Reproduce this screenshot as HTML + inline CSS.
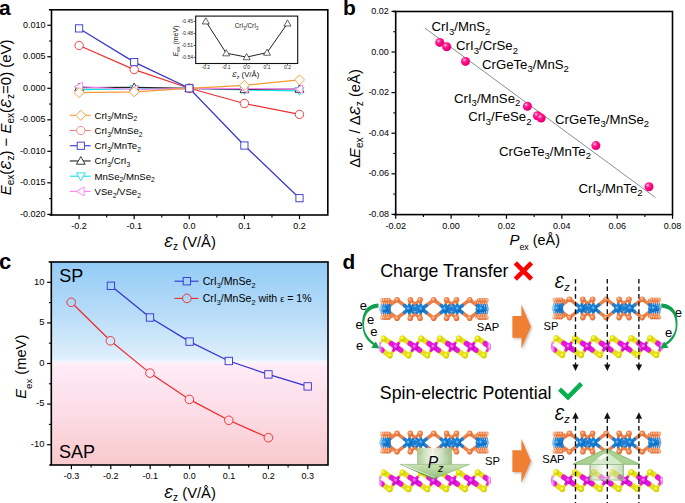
<!DOCTYPE html><html><head><meta charset="utf-8"><title>Figure</title><style>html,body{margin:0;padding:0;background:#fff;width:685px;height:503px;overflow:hidden}svg{display:block;font-family:"Liberation Sans",sans-serif}</style></head><body>
<svg width="685" height="503" viewBox="0 0 685 503">
<defs><radialGradient id="ball" cx="0.36" cy="0.33" r="0.72"><stop offset="0" stop-color="#ffd8ee"/><stop offset="0.28" stop-color="#ff2c98"/><stop offset="0.6" stop-color="#fb007f"/><stop offset="1" stop-color="#e20074"/></radialGradient><linearGradient id="bgall" gradientUnits="userSpaceOnUse" x1="0" y1="262" x2="0" y2="465"><stop offset="0" stop-color="#93cbf6"/><stop offset="0.25" stop-color="#b7dcf8"/><stop offset="0.475" stop-color="#deeffc"/><stop offset="0.4916" stop-color="#f2f8fe"/><stop offset="0.4916" stop-color="#fff4fb"/><stop offset="0.52" stop-color="#feeaf6"/><stop offset="0.75" stop-color="#fcdce6"/><stop offset="1" stop-color="#f9c9cb"/></linearGradient><radialGradient id="gcr" cx="0.4" cy="0.38" r="0.65"><stop offset="0" stop-color="#8fd2ff"/><stop offset="0.35" stop-color="#1e88dc"/><stop offset="1" stop-color="#0a60b0"/></radialGradient><radialGradient id="gi" cx="0.4" cy="0.38" r="0.65"><stop offset="0" stop-color="#ffd8c0"/><stop offset="0.4" stop-color="#f28a52"/><stop offset="1" stop-color="#d86a30"/></radialGradient><radialGradient id="gmn" cx="0.4" cy="0.38" r="0.65"><stop offset="0" stop-color="#ffb0ff"/><stop offset="0.4" stop-color="#e81ee0"/><stop offset="1" stop-color="#c000b8"/></radialGradient><radialGradient id="gse" cx="0.4" cy="0.38" r="0.65"><stop offset="0" stop-color="#ffff90"/><stop offset="0.4" stop-color="#eeea10"/><stop offset="1" stop-color="#c8c000"/></radialGradient><linearGradient id="shaft" x1="0" y1="0" x2="1" y2="0"><stop offset="0" stop-color="#a8c890"/><stop offset="0.45" stop-color="#f4faf0"/><stop offset="1" stop-color="#98bc80"/></linearGradient><linearGradient id="head" x1="0" y1="0" x2="0" y2="1"><stop offset="0" stop-color="#c4e0ae"/><stop offset="1" stop-color="#8cbc74"/></linearGradient><linearGradient id="headu" x1="0" y1="0" x2="0" y2="1"><stop offset="0" stop-color="#bcdcaa"/><stop offset="1" stop-color="#a8d094"/></linearGradient><linearGradient id="fadeL" x1="0" y1="0" x2="1" y2="0"><stop offset="0" stop-color="#fff" stop-opacity="0.85"/><stop offset="1" stop-color="#fff" stop-opacity="0"/></linearGradient><linearGradient id="fadeR" x1="1" y1="0" x2="0" y2="0"><stop offset="0" stop-color="#fff" stop-opacity="0.85"/><stop offset="1" stop-color="#fff" stop-opacity="0"/></linearGradient></defs>
<line x1="47.3" y1="25.27" x2="51.5" y2="25.27" stroke="#000" stroke-width="1.2"/>
<text x="45.5" y="27.87" font-size="9" text-anchor="end">0.010</text>
<line x1="47.3" y1="56.78" x2="51.5" y2="56.78" stroke="#000" stroke-width="1.2"/>
<text x="45.5" y="59.38" font-size="9" text-anchor="end">0.005</text>
<line x1="47.3" y1="88.3" x2="51.5" y2="88.3" stroke="#000" stroke-width="1.2"/>
<text x="45.5" y="90.9" font-size="9" text-anchor="end">0.000</text>
<line x1="47.3" y1="119.81" x2="51.5" y2="119.81" stroke="#000" stroke-width="1.2"/>
<text x="45.5" y="122.41" font-size="9" text-anchor="end">-0.005</text>
<line x1="47.3" y1="151.33" x2="51.5" y2="151.33" stroke="#000" stroke-width="1.2"/>
<text x="45.5" y="153.93" font-size="9" text-anchor="end">-0.010</text>
<line x1="47.3" y1="182.84" x2="51.5" y2="182.84" stroke="#000" stroke-width="1.2"/>
<text x="45.5" y="185.44" font-size="9" text-anchor="end">-0.015</text>
<line x1="47.3" y1="214.36" x2="51.5" y2="214.36" stroke="#000" stroke-width="1.2"/>
<text x="45.5" y="216.96" font-size="9" text-anchor="end">-0.020</text>
<line x1="49.1" y1="41.03" x2="51.5" y2="41.03" stroke="#000" stroke-width="1.1"/>
<line x1="49.1" y1="72.54" x2="51.5" y2="72.54" stroke="#000" stroke-width="1.1"/>
<line x1="49.1" y1="104.06" x2="51.5" y2="104.06" stroke="#000" stroke-width="1.1"/>
<line x1="49.1" y1="135.57" x2="51.5" y2="135.57" stroke="#000" stroke-width="1.1"/>
<line x1="49.1" y1="167.09" x2="51.5" y2="167.09" stroke="#000" stroke-width="1.1"/>
<line x1="49.1" y1="198.6" x2="51.5" y2="198.6" stroke="#000" stroke-width="1.1"/>
<line x1="79.1" y1="215" x2="79.1" y2="219.2" stroke="#000" stroke-width="1.2"/>
<text x="79.1" y="229.2" font-size="9" text-anchor="middle">-0.2</text>
<line x1="134.2" y1="215" x2="134.2" y2="219.2" stroke="#000" stroke-width="1.2"/>
<text x="134.2" y="229.2" font-size="9" text-anchor="middle">-0.1</text>
<line x1="189.3" y1="215" x2="189.3" y2="219.2" stroke="#000" stroke-width="1.2"/>
<text x="189.3" y="229.2" font-size="9" text-anchor="middle">0.0</text>
<line x1="244.4" y1="215" x2="244.4" y2="219.2" stroke="#000" stroke-width="1.2"/>
<text x="244.4" y="229.2" font-size="9" text-anchor="middle">0.1</text>
<line x1="299.5" y1="215" x2="299.5" y2="219.2" stroke="#000" stroke-width="1.2"/>
<text x="299.5" y="229.2" font-size="9" text-anchor="middle">0.2</text>
<line x1="106.65" y1="215" x2="106.65" y2="217.4" stroke="#000" stroke-width="1.1"/>
<line x1="161.75" y1="215" x2="161.75" y2="217.4" stroke="#000" stroke-width="1.1"/>
<line x1="216.85" y1="215" x2="216.85" y2="217.4" stroke="#000" stroke-width="1.1"/>
<line x1="271.95" y1="215" x2="271.95" y2="217.4" stroke="#000" stroke-width="1.1"/>
<text x="164" y="247.4" font-size="14.8"><tspan font-style="italic">&#400;</tspan><tspan dy="3" font-size="10">z</tspan><tspan dy="-3"> (V/&#197;)</tspan></text>
<text transform="translate(10.8,117.4) rotate(-90)" text-anchor="middle" font-size="14.95"><tspan font-style="italic">E</tspan><tspan dy="3.6" font-size="10">ex</tspan><tspan dy="-3.6">(</tspan><tspan font-style="italic">&#400;</tspan><tspan dy="3.3" font-size="10">z</tspan><tspan dy="-3.3">) &#8722; </tspan><tspan font-style="italic">E</tspan><tspan dy="3.6" font-size="10">ex</tspan><tspan dy="-3.6">(</tspan><tspan font-style="italic">&#400;</tspan><tspan dy="3.3" font-size="10">z</tspan><tspan dy="-3.3">=0) (eV)</tspan></text>
<polyline points="79.1,89.6 134.2,89 189.3,88.3 244.4,90 299.5,90.8" fill="none" stroke="#10e0e8" stroke-width="1.2"/>
<polyline points="79.1,87.6 134.2,87.4 189.3,88.3 244.4,89.4 299.5,89" fill="none" stroke="#222222" stroke-width="1.2"/>
<polyline points="79.1,86.6 134.2,89.5 189.3,88.3 244.4,88.6 299.5,89.2" fill="none" stroke="#ff80f0" stroke-width="1.2"/>
<polyline points="79.1,92.6 134.2,91.8 189.3,88.3 244.4,85.3 299.5,79.9" fill="none" stroke="#f39a32" stroke-width="1.2"/>
<polyline points="79.1,45.5 134.2,69.6 189.3,88.3 244.4,103.5 299.5,114.4" fill="none" stroke="#ee3030" stroke-width="1.2"/>
<polyline points="79.1,28.4 134.2,62.1 189.3,88.3 244.4,145.5 299.5,198.2" fill="none" stroke="#3535cc" stroke-width="1.2"/>
<polygon points="79.1,94 83.5,86.3 74.7,86.3" fill="#fff" stroke="#10e0e8" stroke-width="0.9"/>
<polygon points="134.2,93.4 138.6,85.7 129.8,85.7" fill="#fff" stroke="#10e0e8" stroke-width="0.9"/>
<polygon points="189.3,92.7 193.7,85 184.9,85" fill="#fff" stroke="#10e0e8" stroke-width="0.9"/>
<polygon points="244.4,94.4 248.8,86.7 240,86.7" fill="#fff" stroke="#10e0e8" stroke-width="0.9"/>
<polygon points="299.5,95.2 303.9,87.5 295.1,87.5" fill="#fff" stroke="#10e0e8" stroke-width="0.9"/>
<polygon points="79.1,83.2 83.5,90.9 74.7,90.9" fill="#fff" stroke="#222222" stroke-width="0.9"/>
<polygon points="134.2,83 138.6,90.7 129.8,90.7" fill="#fff" stroke="#222222" stroke-width="0.9"/>
<polygon points="189.3,83.9 193.7,91.6 184.9,91.6" fill="#fff" stroke="#222222" stroke-width="0.9"/>
<polygon points="244.4,85 248.8,92.7 240,92.7" fill="#fff" stroke="#222222" stroke-width="0.9"/>
<polygon points="299.5,84.6 303.9,92.3 295.1,92.3" fill="#fff" stroke="#222222" stroke-width="0.9"/>
<polygon points="74.7,86.6 82.4,82.2 82.4,91" fill="#fff" stroke="#ff80f0" stroke-width="0.9"/>
<polygon points="129.8,89.5 137.5,85.1 137.5,93.9" fill="#fff" stroke="#ff80f0" stroke-width="0.9"/>
<polygon points="184.9,88.3 192.6,83.9 192.6,92.7" fill="#fff" stroke="#ff80f0" stroke-width="0.9"/>
<polygon points="240,88.6 247.7,84.2 247.7,93" fill="#fff" stroke="#ff80f0" stroke-width="0.9"/>
<polygon points="295.1,89.2 302.8,84.8 302.8,93.6" fill="#fff" stroke="#ff80f0" stroke-width="0.9"/>
<polygon points="79.1,87.6 84.1,92.6 79.1,97.6 74.1,92.6" fill="#fff" stroke="#f39a32" stroke-width="0.9"/>
<polygon points="134.2,86.8 139.2,91.8 134.2,96.8 129.2,91.8" fill="#fff" stroke="#f39a32" stroke-width="0.9"/>
<polygon points="189.3,83.3 194.3,88.3 189.3,93.3 184.3,88.3" fill="#fff" stroke="#f39a32" stroke-width="0.9"/>
<polygon points="244.4,80.3 249.4,85.3 244.4,90.3 239.4,85.3" fill="#fff" stroke="#f39a32" stroke-width="0.9"/>
<polygon points="299.5,74.9 304.5,79.9 299.5,84.9 294.5,79.9" fill="#fff" stroke="#f39a32" stroke-width="0.9"/>
<circle cx="79.1" cy="45.5" r="4.2" fill="#fff" stroke="#ee3030" stroke-width="0.9"/>
<circle cx="134.2" cy="69.6" r="4.2" fill="#fff" stroke="#ee3030" stroke-width="0.9"/>
<circle cx="189.3" cy="88.3" r="4.2" fill="#fff" stroke="#ee3030" stroke-width="0.9"/>
<circle cx="244.4" cy="103.5" r="4.2" fill="#fff" stroke="#ee3030" stroke-width="0.9"/>
<circle cx="299.5" cy="114.4" r="4.2" fill="#fff" stroke="#ee3030" stroke-width="0.9"/>
<rect x="75.5" y="24.8" width="7.2" height="7.2" fill="#fff" stroke="#3535cc" stroke-width="0.9"/>
<rect x="130.6" y="58.5" width="7.2" height="7.2" fill="#fff" stroke="#3535cc" stroke-width="0.9"/>
<rect x="185.7" y="84.7" width="7.2" height="7.2" fill="#fff" stroke="#3535cc" stroke-width="0.9"/>
<rect x="240.8" y="141.9" width="7.2" height="7.2" fill="#fff" stroke="#3535cc" stroke-width="0.9"/>
<rect x="295.9" y="194.6" width="7.2" height="7.2" fill="#fff" stroke="#3535cc" stroke-width="0.9"/>
<line x1="49.5" y1="215" x2="51.5" y2="215" stroke="#000" stroke-width="1.6"/>
<line x1="48.9" y1="9.8" x2="51.5" y2="9.8" stroke="#000" stroke-width="1.6"/>
<rect x="51.5" y="9.8" width="276.3" height="205.2" fill="none" stroke="#000" stroke-width="1.6"/>
<line x1="69.8" y1="115.3" x2="90.6" y2="115.3" stroke="#f39a32" stroke-width="1.1"/>
<polygon points="80.8,110.3 85.8,115.3 80.8,120.3 75.8,115.3" fill="#fff" stroke="#f39a32" stroke-width="0.9"/>
<text x="94.5" y="118.8" font-size="9.6"><tspan>CrI</tspan><tspan dy="2.6" font-size="6.72">3</tspan><tspan dy="-2.6">/MnS</tspan><tspan dy="2.6" font-size="6.72">2</tspan></text>
<line x1="69.8" y1="130.52" x2="90.6" y2="130.52" stroke="#f08080" stroke-width="1.1"/>
<circle cx="80.8" cy="130.52" r="4.2" fill="#fff" stroke="#f08080" stroke-width="0.9"/>
<text x="94.5" y="134.02" font-size="9.6"><tspan>CrI</tspan><tspan dy="2.6" font-size="6.72">3</tspan><tspan dy="-2.6">/MnSe</tspan><tspan dy="2.6" font-size="6.72">2</tspan></text>
<line x1="69.8" y1="145.74" x2="90.6" y2="145.74" stroke="#3535cc" stroke-width="1.1"/>
<rect x="77.2" y="142.14" width="7.2" height="7.2" fill="#fff" stroke="#3535cc" stroke-width="0.9"/>
<text x="94.5" y="149.24" font-size="9.6"><tspan>CrI</tspan><tspan dy="2.6" font-size="6.72">3</tspan><tspan dy="-2.6">/MnTe</tspan><tspan dy="2.6" font-size="6.72">2</tspan></text>
<line x1="69.8" y1="160.96" x2="90.6" y2="160.96" stroke="#222222" stroke-width="1.1"/>
<polygon points="80.8,156.56 85.2,164.26 76.4,164.26" fill="#fff" stroke="#222222" stroke-width="0.9"/>
<text x="94.5" y="164.46" font-size="9.6"><tspan>CrI</tspan><tspan dy="2.6" font-size="6.72">3</tspan><tspan dy="-2.6">/CrI</tspan><tspan dy="2.6" font-size="6.72">3</tspan></text>
<line x1="69.8" y1="176.18" x2="90.6" y2="176.18" stroke="#10e0e8" stroke-width="1.1"/>
<polygon points="80.8,180.58 85.2,172.88 76.4,172.88" fill="#fff" stroke="#10e0e8" stroke-width="0.9"/>
<text x="94.5" y="179.68" font-size="9.6"><tspan>MnSe</tspan><tspan dy="2.6" font-size="6.72">2</tspan><tspan dy="-2.6">/MnSe</tspan><tspan dy="2.6" font-size="6.72">2</tspan></text>
<line x1="69.8" y1="191.4" x2="90.6" y2="191.4" stroke="#ff80f0" stroke-width="1.1"/>
<polygon points="76.4,191.4 84.1,187 84.1,195.8" fill="#fff" stroke="#ff80f0" stroke-width="0.9"/>
<text x="94.5" y="194.9" font-size="9.6"><tspan>VSe</tspan><tspan dy="2.6" font-size="6.72">2</tspan><tspan dy="-2.6">/VSe</tspan><tspan dy="2.6" font-size="6.72">2</tspan></text>
<polyline points="205.8,21.3 226.22,53.2 246.65,57.1 267.07,52.6 287.5,23.4" fill="none" stroke="#222" stroke-width="1"/>
<polygon points="205.8,17.78 209.32,23.94 202.28,23.94" fill="#fff" stroke="#222" stroke-width="0.7"/>
<polygon points="226.22,49.68 229.75,55.84 222.7,55.84" fill="#fff" stroke="#222" stroke-width="0.7"/>
<polygon points="246.65,53.58 250.17,59.74 243.13,59.74" fill="#fff" stroke="#222" stroke-width="0.7"/>
<polygon points="267.07,49.08 270.59,55.24 263.56,55.24" fill="#fff" stroke="#222" stroke-width="0.7"/>
<polygon points="287.5,19.88 291.02,26.04 283.98,26.04" fill="#fff" stroke="#222" stroke-width="0.7"/>
<rect x="195.7" y="16.1" width="102" height="47.4" fill="none" stroke="#111" stroke-width="1.1"/>
<line x1="193.7" y1="21.5" x2="195.7" y2="21.5" stroke="#111" stroke-width="0.7"/>
<text x="193.1" y="23.3" font-size="5" text-anchor="end" fill="#222">-0.45</text>
<line x1="193.7" y1="33.5" x2="195.7" y2="33.5" stroke="#111" stroke-width="0.7"/>
<text x="193.1" y="35.3" font-size="5" text-anchor="end" fill="#222">-0.48</text>
<line x1="193.7" y1="45.5" x2="195.7" y2="45.5" stroke="#111" stroke-width="0.7"/>
<text x="193.1" y="47.3" font-size="5" text-anchor="end" fill="#222">-0.51</text>
<line x1="193.7" y1="57.3" x2="195.7" y2="57.3" stroke="#111" stroke-width="0.7"/>
<text x="193.1" y="59.1" font-size="5" text-anchor="end" fill="#222">-0.54</text>
<line x1="205.8" y1="63.5" x2="205.8" y2="65.5" stroke="#111" stroke-width="0.7"/>
<text x="205.8" y="69.2" font-size="5" text-anchor="middle" fill="#222">-0.2</text>
<line x1="226.22" y1="63.5" x2="226.22" y2="65.5" stroke="#111" stroke-width="0.7"/>
<text x="226.22" y="69.2" font-size="5" text-anchor="middle" fill="#222">-0.1</text>
<line x1="246.65" y1="63.5" x2="246.65" y2="65.5" stroke="#111" stroke-width="0.7"/>
<text x="246.65" y="69.2" font-size="5" text-anchor="middle" fill="#222">0.0</text>
<line x1="267.07" y1="63.5" x2="267.07" y2="65.5" stroke="#111" stroke-width="0.7"/>
<text x="267.07" y="69.2" font-size="5" text-anchor="middle" fill="#222">0.1</text>
<line x1="287.5" y1="63.5" x2="287.5" y2="65.5" stroke="#111" stroke-width="0.7"/>
<text x="287.5" y="69.2" font-size="5" text-anchor="middle" fill="#222">0.2</text>
<text x="245.6" y="77" font-size="7.8" text-anchor="middle" fill="#111"><tspan font-style="italic">&#400;</tspan><tspan dy="1.8" font-size="5.4">z</tspan><tspan dy="-1.8"> (V/&#197;)</tspan></text>
<text transform="translate(178.4,41) rotate(-90)" text-anchor="middle" font-size="7" fill="#111"><tspan font-style="italic">E</tspan><tspan dy="1.6" font-size="5">ex</tspan><tspan dy="-1.6"> (meV)</tspan></text>
<text x="246.6" y="28.2" font-size="6.4" text-anchor="middle" fill="#222"><tspan>CrI</tspan><tspan dy="1.8" font-size="4.48">3</tspan><tspan dy="-1.8">/CrI</tspan><tspan dy="1.8" font-size="4.48">3</tspan></text>
<text x="-1" y="14.5" font-size="21" font-weight="bold">a</text>
<line x1="391.5" y1="11.4" x2="395.7" y2="11.4" stroke="#000" stroke-width="1.2"/>
<text x="388.9" y="14" font-size="9" text-anchor="end">0.02</text>
<line x1="391.5" y1="52" x2="395.7" y2="52" stroke="#000" stroke-width="1.2"/>
<text x="388.9" y="54.6" font-size="9" text-anchor="end">0.00</text>
<line x1="391.5" y1="92.6" x2="395.7" y2="92.6" stroke="#000" stroke-width="1.2"/>
<text x="388.9" y="95.2" font-size="9" text-anchor="end">-0.02</text>
<line x1="391.5" y1="133.2" x2="395.7" y2="133.2" stroke="#000" stroke-width="1.2"/>
<text x="388.9" y="135.8" font-size="9" text-anchor="end">-0.04</text>
<line x1="391.5" y1="173.8" x2="395.7" y2="173.8" stroke="#000" stroke-width="1.2"/>
<text x="388.9" y="176.4" font-size="9" text-anchor="end">-0.06</text>
<line x1="391.5" y1="214.4" x2="395.7" y2="214.4" stroke="#000" stroke-width="1.2"/>
<text x="388.9" y="217" font-size="9" text-anchor="end">-0.08</text>
<line x1="393.3" y1="31.7" x2="395.7" y2="31.7" stroke="#000" stroke-width="1.1"/>
<line x1="393.3" y1="72.3" x2="395.7" y2="72.3" stroke="#000" stroke-width="1.1"/>
<line x1="393.3" y1="112.9" x2="395.7" y2="112.9" stroke="#000" stroke-width="1.1"/>
<line x1="393.3" y1="153.5" x2="395.7" y2="153.5" stroke="#000" stroke-width="1.1"/>
<line x1="393.3" y1="194.1" x2="395.7" y2="194.1" stroke="#000" stroke-width="1.1"/>
<line x1="395.74" y1="214.6" x2="395.74" y2="218.8" stroke="#000" stroke-width="1.2"/>
<text x="395.74" y="229.2" font-size="9" text-anchor="middle">-0.02</text>
<line x1="451.1" y1="214.6" x2="451.1" y2="218.8" stroke="#000" stroke-width="1.2"/>
<text x="451.1" y="229.2" font-size="9" text-anchor="middle">0.00</text>
<line x1="506.46" y1="214.6" x2="506.46" y2="218.8" stroke="#000" stroke-width="1.2"/>
<text x="506.46" y="229.2" font-size="9" text-anchor="middle">0.02</text>
<line x1="561.82" y1="214.6" x2="561.82" y2="218.8" stroke="#000" stroke-width="1.2"/>
<text x="561.82" y="229.2" font-size="9" text-anchor="middle">0.04</text>
<line x1="617.18" y1="214.6" x2="617.18" y2="218.8" stroke="#000" stroke-width="1.2"/>
<text x="617.18" y="229.2" font-size="9" text-anchor="middle">0.06</text>
<line x1="672.54" y1="214.6" x2="672.54" y2="218.8" stroke="#000" stroke-width="1.2"/>
<text x="672.54" y="229.2" font-size="9" text-anchor="middle">0.08</text>
<line x1="423.42" y1="214.6" x2="423.42" y2="217" stroke="#000" stroke-width="1.1"/>
<line x1="478.78" y1="214.6" x2="478.78" y2="217" stroke="#000" stroke-width="1.1"/>
<line x1="534.14" y1="214.6" x2="534.14" y2="217" stroke="#000" stroke-width="1.1"/>
<line x1="589.5" y1="214.6" x2="589.5" y2="217" stroke="#000" stroke-width="1.1"/>
<line x1="644.86" y1="214.6" x2="644.86" y2="217" stroke="#000" stroke-width="1.1"/>
<line x1="425" y1="28.2" x2="655.6" y2="197.7" stroke="#808080" stroke-width="0.9"/>
<circle cx="439.7" cy="42.4" r="4.5" fill="url(#ball)"/>
<circle cx="446.7" cy="46.7" r="4.5" fill="url(#ball)"/>
<circle cx="465.5" cy="61.4" r="4.5" fill="url(#ball)"/>
<circle cx="527.4" cy="106.2" r="4.5" fill="url(#ball)"/>
<circle cx="537.4" cy="115.8" r="4.5" fill="url(#ball)"/>
<circle cx="541.2" cy="118.1" r="4.5" fill="url(#ball)"/>
<circle cx="595.9" cy="145.6" r="4.5" fill="url(#ball)"/>
<circle cx="649" cy="186.8" r="4.5" fill="url(#ball)"/>
<line x1="393.7" y1="214.6" x2="395.7" y2="214.6" stroke="#000" stroke-width="1.6"/>
<line x1="393.1" y1="11.5" x2="395.7" y2="11.5" stroke="#000" stroke-width="1.6"/>
<rect x="395.7" y="11.5" width="276.8" height="203.1" fill="none" stroke="#000" stroke-width="1.6"/>
<text x="431.4" y="31.4" font-size="13.2"><tspan>CrI</tspan><tspan dy="3.4" font-size="9.5">3</tspan><tspan dy="-3.4">/MnS</tspan><tspan dy="3.4" font-size="9.5">2</tspan></text>
<text x="456.1" y="50.2" font-size="13.2"><tspan>CrI</tspan><tspan dy="3.4" font-size="9.5">3</tspan><tspan dy="-3.4">/CrSe</tspan><tspan dy="3.4" font-size="9.5">2</tspan></text>
<text x="482" y="68.6" font-size="13.2"><tspan>CrGeTe</tspan><tspan dy="3.4" font-size="9.5">3</tspan><tspan dy="-3.4">/MnS</tspan><tspan dy="3.4" font-size="9.5">2</tspan></text>
<text x="520.3" y="102.7" font-size="13.2" text-anchor="end"><tspan>CrI</tspan><tspan dy="3.4" font-size="9.5">3</tspan><tspan dy="-3.4">/MnSe</tspan><tspan dy="3.4" font-size="9.5">2</tspan></text>
<text x="531.5" y="121.1" font-size="13.2" text-anchor="end"><tspan>CrI</tspan><tspan dy="3.4" font-size="9.5">3</tspan><tspan dy="-3.4">/FeSe</tspan><tspan dy="3.4" font-size="9.5">2</tspan></text>
<text x="555" y="123.5" font-size="13.2"><tspan>CrGeTe</tspan><tspan dy="3.4" font-size="9.5">3</tspan><tspan dy="-3.4">/MnSe</tspan><tspan dy="3.4" font-size="9.5">2</tspan></text>
<text x="591" y="155.5" font-size="13.2" text-anchor="end"><tspan>CrGeTe</tspan><tspan dy="3.4" font-size="9.5">3</tspan><tspan dy="-3.4">/MnTe</tspan><tspan dy="3.4" font-size="9.5">2</tspan></text>
<text x="642.6" y="193" font-size="13.2" text-anchor="end"><tspan>CrI</tspan><tspan dy="3.4" font-size="9.5">3</tspan><tspan dy="-3.4">/MnTe</tspan><tspan dy="3.4" font-size="9.5">2</tspan></text>
<text x="509.4" y="244.6" font-size="15"><tspan font-style="italic">P</tspan><tspan dy="5.6" font-size="8.9">ex</tspan><tspan dy="-5.6" font-size="14.4"> (e&#197;)</tspan></text>
<text transform="translate(359.5,118.5) rotate(-90)" text-anchor="middle" font-size="14.8">&#916;<tspan font-style="italic">E</tspan><tspan dy="3.6" font-size="10">ex</tspan><tspan dy="-3.6"> / &#916;</tspan><tspan font-style="italic">&#400;</tspan><tspan dy="3.3" font-size="10">z</tspan><tspan dy="-3.3"> (e&#197;)</tspan></text>
<text x="343" y="14.5" font-size="21" font-weight="bold">b</text>
<rect x="51.3" y="262" width="276.7" height="203" fill="url(#bgall)"/>
<line x1="47.1" y1="282.3" x2="51.3" y2="282.3" stroke="#000" stroke-width="1.2"/>
<text x="44.4" y="284.6" font-size="9.4" text-anchor="end">10</text>
<line x1="47.1" y1="322.9" x2="51.3" y2="322.9" stroke="#000" stroke-width="1.2"/>
<text x="44.4" y="325.2" font-size="9.4" text-anchor="end">5</text>
<line x1="47.1" y1="363.5" x2="51.3" y2="363.5" stroke="#000" stroke-width="1.2"/>
<text x="44.4" y="365.8" font-size="9.4" text-anchor="end">0</text>
<line x1="47.1" y1="404.1" x2="51.3" y2="404.1" stroke="#000" stroke-width="1.2"/>
<text x="44.4" y="406.4" font-size="9.4" text-anchor="end">-5</text>
<line x1="47.1" y1="444.7" x2="51.3" y2="444.7" stroke="#000" stroke-width="1.2"/>
<text x="44.4" y="447" font-size="9.4" text-anchor="end">-10</text>
<line x1="48.9" y1="302.6" x2="51.3" y2="302.6" stroke="#000" stroke-width="1.1"/>
<line x1="48.9" y1="343.2" x2="51.3" y2="343.2" stroke="#000" stroke-width="1.1"/>
<line x1="48.9" y1="383.8" x2="51.3" y2="383.8" stroke="#000" stroke-width="1.1"/>
<line x1="48.9" y1="424.4" x2="51.3" y2="424.4" stroke="#000" stroke-width="1.1"/>
<line x1="71.4" y1="465" x2="71.4" y2="469.2" stroke="#000" stroke-width="1.2"/>
<text x="71.4" y="478.8" font-size="9" text-anchor="middle">-0.3</text>
<line x1="110.8" y1="465" x2="110.8" y2="469.2" stroke="#000" stroke-width="1.2"/>
<text x="110.8" y="478.8" font-size="9" text-anchor="middle">-0.2</text>
<line x1="150.2" y1="465" x2="150.2" y2="469.2" stroke="#000" stroke-width="1.2"/>
<text x="150.2" y="478.8" font-size="9" text-anchor="middle">-0.1</text>
<line x1="189.6" y1="465" x2="189.6" y2="469.2" stroke="#000" stroke-width="1.2"/>
<text x="189.6" y="478.8" font-size="9" text-anchor="middle">0.0</text>
<line x1="229" y1="465" x2="229" y2="469.2" stroke="#000" stroke-width="1.2"/>
<text x="229" y="478.8" font-size="9" text-anchor="middle">0.1</text>
<line x1="268.4" y1="465" x2="268.4" y2="469.2" stroke="#000" stroke-width="1.2"/>
<text x="268.4" y="478.8" font-size="9" text-anchor="middle">0.2</text>
<line x1="307.8" y1="465" x2="307.8" y2="469.2" stroke="#000" stroke-width="1.2"/>
<text x="307.8" y="478.8" font-size="9" text-anchor="middle">0.3</text>
<line x1="91.1" y1="465" x2="91.1" y2="467.4" stroke="#000" stroke-width="1.1"/>
<line x1="130.5" y1="465" x2="130.5" y2="467.4" stroke="#000" stroke-width="1.1"/>
<line x1="169.9" y1="465" x2="169.9" y2="467.4" stroke="#000" stroke-width="1.1"/>
<line x1="209.3" y1="465" x2="209.3" y2="467.4" stroke="#000" stroke-width="1.1"/>
<line x1="248.7" y1="465" x2="248.7" y2="467.4" stroke="#000" stroke-width="1.1"/>
<line x1="288.1" y1="465" x2="288.1" y2="467.4" stroke="#000" stroke-width="1.1"/>
<polyline points="110.9,285.8 150,317.5 189.6,341.6 228.8,361 268.4,374.4 307.7,386.4" fill="none" stroke="#3232d2" stroke-width="1.2"/>
<polyline points="71.2,302.3 110.4,340.8 150,373.1 189.4,399.4 228.8,420.3 268.4,437.7" fill="none" stroke="#f02828" stroke-width="1.2"/>
<rect x="107.2" y="282.1" width="7.4" height="7.4" fill="url(#bgall)" stroke="#3232d2" stroke-width="0.9"/>
<rect x="146.3" y="313.8" width="7.4" height="7.4" fill="url(#bgall)" stroke="#3232d2" stroke-width="0.9"/>
<rect x="185.9" y="337.9" width="7.4" height="7.4" fill="url(#bgall)" stroke="#3232d2" stroke-width="0.9"/>
<rect x="225.1" y="357.3" width="7.4" height="7.4" fill="url(#bgall)" stroke="#3232d2" stroke-width="0.9"/>
<rect x="264.7" y="370.7" width="7.4" height="7.4" fill="url(#bgall)" stroke="#3232d2" stroke-width="0.9"/>
<rect x="304" y="382.7" width="7.4" height="7.4" fill="url(#bgall)" stroke="#3232d2" stroke-width="0.9"/>
<circle cx="71.2" cy="302.3" r="4.3" fill="url(#bgall)" stroke="#f02828" stroke-width="0.9"/>
<circle cx="110.4" cy="340.8" r="4.3" fill="url(#bgall)" stroke="#f02828" stroke-width="0.9"/>
<circle cx="150" cy="373.1" r="4.3" fill="url(#bgall)" stroke="#f02828" stroke-width="0.9"/>
<circle cx="189.4" cy="399.4" r="4.3" fill="url(#bgall)" stroke="#f02828" stroke-width="0.9"/>
<circle cx="228.8" cy="420.3" r="4.3" fill="url(#bgall)" stroke="#f02828" stroke-width="0.9"/>
<circle cx="268.4" cy="437.7" r="4.3" fill="url(#bgall)" stroke="#f02828" stroke-width="0.9"/>
<line x1="49.3" y1="465" x2="51.3" y2="465" stroke="#000" stroke-width="1.6"/>
<line x1="48.7" y1="262" x2="51.3" y2="262" stroke="#000" stroke-width="1.6"/>
<rect x="51.3" y="262" width="276.7" height="203" fill="none" stroke="#000" stroke-width="1.6"/>
<line x1="174.5" y1="281.2" x2="198.5" y2="281.2" stroke="#3232d2" stroke-width="1.1"/>
<rect x="183.2" y="277.5" width="7.4" height="7.4" fill="url(#bgall)" stroke="#3232d2" stroke-width="0.9"/>
<text x="202.7" y="285" font-size="10.6"><tspan>CrI</tspan><tspan dy="3" font-size="7.21">3</tspan><tspan dy="-3">/MnSe</tspan><tspan dy="3" font-size="7.21">2</tspan></text>
<line x1="174.5" y1="298.4" x2="198.5" y2="298.4" stroke="#f02828" stroke-width="1.1"/>
<circle cx="186.9" cy="298.4" r="4.3" fill="url(#bgall)" stroke="#f02828" stroke-width="0.9"/>
<text x="202.7" y="302.2" font-size="10.6"><tspan>CrI</tspan><tspan dy="3" font-size="7.21">3</tspan><tspan dy="-3">/MnSe</tspan><tspan dy="3" font-size="7.21">2</tspan><tspan dy="-3"> with </tspan><tspan font-size="9">&#949;</tspan><tspan> = 1%</tspan></text>
<text x="59.3" y="282" font-size="18">SP</text>
<text x="59.1" y="457.9" font-size="18">SAP</text>
<text x="164" y="498" font-size="14.8"><tspan font-style="italic">&#400;</tspan><tspan dy="3" font-size="10">z</tspan><tspan dy="-3"> (V/&#197;)</tspan></text>
<text transform="translate(25.9,366.7) rotate(-90)" text-anchor="middle" font-size="14.7"><tspan font-style="italic">E</tspan><tspan dy="5.6" font-size="9.6">ex</tspan><tspan dy="-5.6"> (meV)</tspan></text>
<text x="-0.9" y="268.7" font-size="22" font-weight="bold">c</text>
<text x="342.4" y="268.8" font-size="20.8" font-weight="bold">d</text>
<text x="380.2" y="277.4" font-size="17.75">Charge Transfer</text>
<text x="379.8" y="398.5" font-size="17.75">Spin-electric Potential</text>
<path d="M515.3,262.8 L531.5,279.2 M531.5,262.8 L515.3,279.2" stroke="#ff0000" stroke-width="4.6" stroke-linecap="butt"/>
<path d="M559.6,389.2 L568,397.4 L581.4,383.6" fill="none" stroke="#05b04e" stroke-width="4.5" stroke-linejoin="miter"/>
<defs><g id="cri3">
<line x1="2.7" y1="-8.6" x2="1.6" y2="-4.3" stroke="#ef7f45" stroke-width="1.5" stroke-linecap="round"/>
<line x1="1.6" y1="-4.3" x2="0.5" y2="0" stroke="#1a80d6" stroke-width="1.5" stroke-linecap="round"/>
<line x1="2.7" y1="8.6" x2="1.6" y2="4.3" stroke="#ef7f45" stroke-width="1.5" stroke-linecap="round"/>
<line x1="1.6" y1="4.3" x2="0.5" y2="0" stroke="#1a80d6" stroke-width="1.5" stroke-linecap="round"/>
<line x1="4.7" y1="-8.6" x2="3.6" y2="-4.3" stroke="#ef7f45" stroke-width="1.5" stroke-linecap="round"/>
<line x1="3.6" y1="-4.3" x2="2.5" y2="0" stroke="#1a80d6" stroke-width="1.5" stroke-linecap="round"/>
<line x1="4.7" y1="8.6" x2="3.6" y2="4.3" stroke="#ef7f45" stroke-width="1.5" stroke-linecap="round"/>
<line x1="3.6" y1="4.3" x2="2.5" y2="0" stroke="#1a80d6" stroke-width="1.5" stroke-linecap="round"/>
<line x1="6.7" y1="-8.6" x2="5.6" y2="-4.3" stroke="#ef7f45" stroke-width="1.5" stroke-linecap="round"/>
<line x1="5.6" y1="-4.3" x2="4.5" y2="0" stroke="#1a80d6" stroke-width="1.5" stroke-linecap="round"/>
<line x1="6.7" y1="8.6" x2="5.6" y2="4.3" stroke="#ef7f45" stroke-width="1.5" stroke-linecap="round"/>
<line x1="5.6" y1="4.3" x2="4.5" y2="0" stroke="#1a80d6" stroke-width="1.5" stroke-linecap="round"/>
<line x1="8.7" y1="-8.6" x2="7.6" y2="-4.3" stroke="#ef7f45" stroke-width="1.5" stroke-linecap="round"/>
<line x1="7.6" y1="-4.3" x2="6.5" y2="0" stroke="#1a80d6" stroke-width="1.5" stroke-linecap="round"/>
<line x1="8.7" y1="8.6" x2="7.6" y2="4.3" stroke="#ef7f45" stroke-width="1.5" stroke-linecap="round"/>
<line x1="7.6" y1="4.3" x2="6.5" y2="0" stroke="#1a80d6" stroke-width="1.5" stroke-linecap="round"/>
<line x1="10.7" y1="-8.6" x2="9.6" y2="-4.3" stroke="#ef7f45" stroke-width="1.5" stroke-linecap="round"/>
<line x1="9.6" y1="-4.3" x2="8.5" y2="0" stroke="#1a80d6" stroke-width="1.5" stroke-linecap="round"/>
<line x1="10.7" y1="8.6" x2="9.6" y2="4.3" stroke="#ef7f45" stroke-width="1.5" stroke-linecap="round"/>
<line x1="9.6" y1="4.3" x2="8.5" y2="0" stroke="#1a80d6" stroke-width="1.5" stroke-linecap="round"/>
<line x1="12.2" y1="-8.6" x2="11.1" y2="-4.3" stroke="#ef7f45" stroke-width="1.5" stroke-linecap="round"/>
<line x1="11.1" y1="-4.3" x2="10" y2="0" stroke="#1a80d6" stroke-width="1.5" stroke-linecap="round"/>
<line x1="12.2" y1="8.6" x2="11.1" y2="4.3" stroke="#ef7f45" stroke-width="1.5" stroke-linecap="round"/>
<line x1="11.1" y1="4.3" x2="10" y2="0" stroke="#1a80d6" stroke-width="1.5" stroke-linecap="round"/>
<line x1="96.3" y1="-8.6" x2="97.4" y2="-4.3" stroke="#ef7f45" stroke-width="1.5" stroke-linecap="round"/>
<line x1="97.4" y1="-4.3" x2="98.5" y2="0" stroke="#1a80d6" stroke-width="1.5" stroke-linecap="round"/>
<line x1="96.3" y1="8.6" x2="97.4" y2="4.3" stroke="#ef7f45" stroke-width="1.5" stroke-linecap="round"/>
<line x1="97.4" y1="4.3" x2="98.5" y2="0" stroke="#1a80d6" stroke-width="1.5" stroke-linecap="round"/>
<line x1="98.3" y1="-8.6" x2="99.4" y2="-4.3" stroke="#ef7f45" stroke-width="1.5" stroke-linecap="round"/>
<line x1="99.4" y1="-4.3" x2="100.5" y2="0" stroke="#1a80d6" stroke-width="1.5" stroke-linecap="round"/>
<line x1="98.3" y1="8.6" x2="99.4" y2="4.3" stroke="#ef7f45" stroke-width="1.5" stroke-linecap="round"/>
<line x1="99.4" y1="4.3" x2="100.5" y2="0" stroke="#1a80d6" stroke-width="1.5" stroke-linecap="round"/>
<line x1="100.3" y1="-8.6" x2="101.4" y2="-4.3" stroke="#ef7f45" stroke-width="1.5" stroke-linecap="round"/>
<line x1="101.4" y1="-4.3" x2="102.5" y2="0" stroke="#1a80d6" stroke-width="1.5" stroke-linecap="round"/>
<line x1="100.3" y1="8.6" x2="101.4" y2="4.3" stroke="#ef7f45" stroke-width="1.5" stroke-linecap="round"/>
<line x1="101.4" y1="4.3" x2="102.5" y2="0" stroke="#1a80d6" stroke-width="1.5" stroke-linecap="round"/>
<line x1="102.3" y1="-8.6" x2="103.4" y2="-4.3" stroke="#ef7f45" stroke-width="1.5" stroke-linecap="round"/>
<line x1="103.4" y1="-4.3" x2="104.5" y2="0" stroke="#1a80d6" stroke-width="1.5" stroke-linecap="round"/>
<line x1="102.3" y1="8.6" x2="103.4" y2="4.3" stroke="#ef7f45" stroke-width="1.5" stroke-linecap="round"/>
<line x1="103.4" y1="4.3" x2="104.5" y2="0" stroke="#1a80d6" stroke-width="1.5" stroke-linecap="round"/>
<line x1="104.3" y1="-8.6" x2="105.4" y2="-4.3" stroke="#ef7f45" stroke-width="1.5" stroke-linecap="round"/>
<line x1="105.4" y1="-4.3" x2="106.5" y2="0" stroke="#1a80d6" stroke-width="1.5" stroke-linecap="round"/>
<line x1="104.3" y1="8.6" x2="105.4" y2="4.3" stroke="#ef7f45" stroke-width="1.5" stroke-linecap="round"/>
<line x1="105.4" y1="4.3" x2="106.5" y2="0" stroke="#1a80d6" stroke-width="1.5" stroke-linecap="round"/>
<line x1="106.3" y1="-8.6" x2="107.4" y2="-4.3" stroke="#ef7f45" stroke-width="1.5" stroke-linecap="round"/>
<line x1="107.4" y1="-4.3" x2="108.5" y2="0" stroke="#1a80d6" stroke-width="1.5" stroke-linecap="round"/>
<line x1="106.3" y1="8.6" x2="107.4" y2="4.3" stroke="#ef7f45" stroke-width="1.5" stroke-linecap="round"/>
<line x1="107.4" y1="4.3" x2="108.5" y2="0" stroke="#1a80d6" stroke-width="1.5" stroke-linecap="round"/>
<line x1="17.3" y1="-9.2" x2="9.86" y2="-3.5" stroke="#ef7f45" stroke-width="3.5" stroke-linecap="round"/>
<line x1="9.86" y1="-3.5" x2="5.3" y2="0" stroke="#1a80d6" stroke-width="3.5" stroke-linecap="round"/>
<line x1="17.3" y1="-9.2" x2="24.74" y2="-3.5" stroke="#ef7f45" stroke-width="3.5" stroke-linecap="round"/>
<line x1="24.74" y1="-3.5" x2="29.3" y2="0" stroke="#1a80d6" stroke-width="3.5" stroke-linecap="round"/>
<line x1="17.3" y1="9.2" x2="9.86" y2="3.5" stroke="#ef7f45" stroke-width="3.5" stroke-linecap="round"/>
<line x1="9.86" y1="3.5" x2="5.3" y2="0" stroke="#1a80d6" stroke-width="3.5" stroke-linecap="round"/>
<line x1="17.3" y1="9.2" x2="24.74" y2="3.5" stroke="#ef7f45" stroke-width="3.5" stroke-linecap="round"/>
<line x1="24.74" y1="3.5" x2="29.3" y2="0" stroke="#1a80d6" stroke-width="3.5" stroke-linecap="round"/>
<line x1="54" y1="-9.2" x2="46.56" y2="-3.5" stroke="#ef7f45" stroke-width="3.5" stroke-linecap="round"/>
<line x1="46.56" y1="-3.5" x2="42" y2="0" stroke="#1a80d6" stroke-width="3.5" stroke-linecap="round"/>
<line x1="54" y1="-9.2" x2="61.44" y2="-3.5" stroke="#ef7f45" stroke-width="3.5" stroke-linecap="round"/>
<line x1="61.44" y1="-3.5" x2="66" y2="0" stroke="#1a80d6" stroke-width="3.5" stroke-linecap="round"/>
<line x1="54" y1="9.2" x2="46.56" y2="3.5" stroke="#ef7f45" stroke-width="3.5" stroke-linecap="round"/>
<line x1="46.56" y1="3.5" x2="42" y2="0" stroke="#1a80d6" stroke-width="3.5" stroke-linecap="round"/>
<line x1="54" y1="9.2" x2="61.44" y2="3.5" stroke="#ef7f45" stroke-width="3.5" stroke-linecap="round"/>
<line x1="61.44" y1="3.5" x2="66" y2="0" stroke="#1a80d6" stroke-width="3.5" stroke-linecap="round"/>
<line x1="90" y1="-9.2" x2="82.56" y2="-3.5" stroke="#ef7f45" stroke-width="3.5" stroke-linecap="round"/>
<line x1="82.56" y1="-3.5" x2="78" y2="0" stroke="#1a80d6" stroke-width="3.5" stroke-linecap="round"/>
<line x1="90" y1="-9.2" x2="97.44" y2="-3.5" stroke="#ef7f45" stroke-width="3.5" stroke-linecap="round"/>
<line x1="97.44" y1="-3.5" x2="102" y2="0" stroke="#1a80d6" stroke-width="3.5" stroke-linecap="round"/>
<line x1="90" y1="9.2" x2="82.56" y2="3.5" stroke="#ef7f45" stroke-width="3.5" stroke-linecap="round"/>
<line x1="82.56" y1="3.5" x2="78" y2="0" stroke="#1a80d6" stroke-width="3.5" stroke-linecap="round"/>
<line x1="90" y1="9.2" x2="97.44" y2="3.5" stroke="#ef7f45" stroke-width="3.5" stroke-linecap="round"/>
<line x1="97.44" y1="3.5" x2="102" y2="0" stroke="#1a80d6" stroke-width="3.5" stroke-linecap="round"/>
<polygon points="29,0 35.3,-2.8 41.6,0 35.3,2.8" fill="#1a80d6"/>
<line x1="40.4" y1="-9.2" x2="33.79" y2="-3.86" stroke="#ef7f45" stroke-width="2.8" stroke-linecap="round"/>
<line x1="33.79" y1="-3.86" x2="29" y2="0" stroke="#1a80d6" stroke-width="2.8" stroke-linecap="round"/>
<line x1="30.6" y1="-9.2" x2="36.98" y2="-3.86" stroke="#ef7f45" stroke-width="2.8" stroke-linecap="round"/>
<line x1="36.98" y1="-3.86" x2="41.6" y2="0" stroke="#1a80d6" stroke-width="2.8" stroke-linecap="round"/>
<line x1="30.6" y1="-9.2" x2="29.64" y2="-3.68" stroke="#ef7f45" stroke-width="3" stroke-linecap="round"/>
<line x1="29.64" y1="-3.68" x2="29" y2="0" stroke="#1a80d6" stroke-width="3" stroke-linecap="round"/>
<line x1="40.4" y1="-9.2" x2="41.12" y2="-3.68" stroke="#ef7f45" stroke-width="3" stroke-linecap="round"/>
<line x1="41.12" y1="-3.68" x2="41.6" y2="0" stroke="#1a80d6" stroke-width="3" stroke-linecap="round"/>
<line x1="40.4" y1="9.2" x2="33.79" y2="3.86" stroke="#ef7f45" stroke-width="2.8" stroke-linecap="round"/>
<line x1="33.79" y1="3.86" x2="29" y2="0" stroke="#1a80d6" stroke-width="2.8" stroke-linecap="round"/>
<line x1="30.6" y1="9.2" x2="36.98" y2="3.86" stroke="#ef7f45" stroke-width="2.8" stroke-linecap="round"/>
<line x1="36.98" y1="3.86" x2="41.6" y2="0" stroke="#1a80d6" stroke-width="2.8" stroke-linecap="round"/>
<line x1="30.6" y1="9.2" x2="29.64" y2="3.68" stroke="#ef7f45" stroke-width="3" stroke-linecap="round"/>
<line x1="29.64" y1="3.68" x2="29" y2="0" stroke="#1a80d6" stroke-width="3" stroke-linecap="round"/>
<line x1="40.4" y1="9.2" x2="41.12" y2="3.68" stroke="#ef7f45" stroke-width="3" stroke-linecap="round"/>
<line x1="41.12" y1="3.68" x2="41.6" y2="0" stroke="#1a80d6" stroke-width="3" stroke-linecap="round"/>
<polygon points="65.3,0 71.65,-2.8 78,0 71.65,2.8" fill="#1a80d6"/>
<line x1="76.8" y1="-9.2" x2="70.13" y2="-3.86" stroke="#ef7f45" stroke-width="2.8" stroke-linecap="round"/>
<line x1="70.13" y1="-3.86" x2="65.3" y2="0" stroke="#1a80d6" stroke-width="2.8" stroke-linecap="round"/>
<line x1="66.9" y1="-9.2" x2="73.34" y2="-3.86" stroke="#ef7f45" stroke-width="2.8" stroke-linecap="round"/>
<line x1="73.34" y1="-3.86" x2="78" y2="0" stroke="#1a80d6" stroke-width="2.8" stroke-linecap="round"/>
<line x1="66.9" y1="-9.2" x2="65.94" y2="-3.68" stroke="#ef7f45" stroke-width="3" stroke-linecap="round"/>
<line x1="65.94" y1="-3.68" x2="65.3" y2="0" stroke="#1a80d6" stroke-width="3" stroke-linecap="round"/>
<line x1="76.8" y1="-9.2" x2="77.52" y2="-3.68" stroke="#ef7f45" stroke-width="3" stroke-linecap="round"/>
<line x1="77.52" y1="-3.68" x2="78" y2="0" stroke="#1a80d6" stroke-width="3" stroke-linecap="round"/>
<line x1="76.8" y1="9.2" x2="70.13" y2="3.86" stroke="#ef7f45" stroke-width="2.8" stroke-linecap="round"/>
<line x1="70.13" y1="3.86" x2="65.3" y2="0" stroke="#1a80d6" stroke-width="2.8" stroke-linecap="round"/>
<line x1="66.9" y1="9.2" x2="73.34" y2="3.86" stroke="#ef7f45" stroke-width="2.8" stroke-linecap="round"/>
<line x1="73.34" y1="3.86" x2="78" y2="0" stroke="#1a80d6" stroke-width="2.8" stroke-linecap="round"/>
<line x1="66.9" y1="9.2" x2="65.94" y2="3.68" stroke="#ef7f45" stroke-width="3" stroke-linecap="round"/>
<line x1="65.94" y1="3.68" x2="65.3" y2="0" stroke="#1a80d6" stroke-width="3" stroke-linecap="round"/>
<line x1="76.8" y1="9.2" x2="77.52" y2="3.68" stroke="#ef7f45" stroke-width="3" stroke-linecap="round"/>
<line x1="77.52" y1="3.68" x2="78" y2="0" stroke="#1a80d6" stroke-width="3" stroke-linecap="round"/>
<circle cx="2" cy="-8.8" r="2.2" fill="url(#gi)"/>
<circle cx="2" cy="8.8" r="2.2" fill="url(#gi)"/>
<circle cx="4.5" cy="-8.8" r="2.2" fill="url(#gi)"/>
<circle cx="4.5" cy="8.8" r="2.2" fill="url(#gi)"/>
<circle cx="7" cy="-8.8" r="2.2" fill="url(#gi)"/>
<circle cx="7" cy="8.8" r="2.2" fill="url(#gi)"/>
<circle cx="9" cy="-8.8" r="2.2" fill="url(#gi)"/>
<circle cx="9" cy="8.8" r="2.2" fill="url(#gi)"/>
<circle cx="99.5" cy="-8.8" r="2.2" fill="url(#gi)"/>
<circle cx="99.5" cy="8.8" r="2.2" fill="url(#gi)"/>
<circle cx="102" cy="-8.8" r="2.2" fill="url(#gi)"/>
<circle cx="102" cy="8.8" r="2.2" fill="url(#gi)"/>
<circle cx="104.5" cy="-8.8" r="2.2" fill="url(#gi)"/>
<circle cx="104.5" cy="8.8" r="2.2" fill="url(#gi)"/>
<circle cx="107" cy="-8.8" r="2.2" fill="url(#gi)"/>
<circle cx="107" cy="8.8" r="2.2" fill="url(#gi)"/>
<circle cx="17.3" cy="-9.2" r="2.8" fill="url(#gi)"/>
<circle cx="17.3" cy="9.2" r="2.8" fill="url(#gi)"/>
<circle cx="54" cy="-9.2" r="2.8" fill="url(#gi)"/>
<circle cx="54" cy="9.2" r="2.8" fill="url(#gi)"/>
<circle cx="90" cy="-9.2" r="2.8" fill="url(#gi)"/>
<circle cx="90" cy="9.2" r="2.8" fill="url(#gi)"/>
<circle cx="30.6" cy="-9.2" r="2.8" fill="url(#gi)"/>
<circle cx="30.6" cy="9.2" r="2.8" fill="url(#gi)"/>
<circle cx="40.4" cy="-9.2" r="2.8" fill="url(#gi)"/>
<circle cx="40.4" cy="9.2" r="2.8" fill="url(#gi)"/>
<circle cx="66.9" cy="-9.2" r="2.8" fill="url(#gi)"/>
<circle cx="66.9" cy="9.2" r="2.8" fill="url(#gi)"/>
<circle cx="76.8" cy="-9.2" r="2.8" fill="url(#gi)"/>
<circle cx="76.8" cy="9.2" r="2.8" fill="url(#gi)"/>
<circle cx="2" cy="0" r="2.6" fill="url(#gcr)"/>
<circle cx="8" cy="0" r="2.6" fill="url(#gcr)"/>
<circle cx="98.5" cy="0" r="2.6" fill="url(#gcr)"/>
<circle cx="105" cy="0" r="2.6" fill="url(#gcr)"/>
<circle cx="5" cy="0" r="3.3" fill="url(#gcr)"/>
<circle cx="29" cy="0" r="3.3" fill="url(#gcr)"/>
<circle cx="41.6" cy="0" r="3.3" fill="url(#gcr)"/>
<circle cx="65.3" cy="0" r="3.3" fill="url(#gcr)"/>
<circle cx="78" cy="0" r="3.3" fill="url(#gcr)"/>
<circle cx="101.5" cy="0" r="3.3" fill="url(#gcr)"/>
<rect x="-1" y="-13" width="5" height="26" fill="url(#fadeL)"/>
<rect x="106" y="-13" width="5" height="26" fill="url(#fadeR)"/>
</g>
<g id="mnse2">
<line x1="3.9" y1="-8.4" x2="0.06" y2="-3.36" stroke="#e4e01c" stroke-width="3" stroke-linecap="round"/>
<line x1="0.06" y1="-3.36" x2="-2.5" y2="0" stroke="#e616de" stroke-width="3" stroke-linecap="round"/>
<line x1="-8.7" y1="8.8" x2="-4.98" y2="3.52" stroke="#e4e01c" stroke-width="3.2" stroke-linecap="round"/>
<line x1="-4.98" y1="3.52" x2="-2.5" y2="0" stroke="#e616de" stroke-width="3.2" stroke-linecap="round"/>
<line x1="22.7" y1="-8.4" x2="18.86" y2="-3.36" stroke="#e4e01c" stroke-width="3" stroke-linecap="round"/>
<line x1="18.86" y1="-3.36" x2="16.3" y2="0" stroke="#e616de" stroke-width="3" stroke-linecap="round"/>
<line x1="10.1" y1="8.8" x2="13.82" y2="3.52" stroke="#e4e01c" stroke-width="3.2" stroke-linecap="round"/>
<line x1="13.82" y1="3.52" x2="16.3" y2="0" stroke="#e616de" stroke-width="3.2" stroke-linecap="round"/>
<line x1="41.5" y1="-8.4" x2="37.66" y2="-3.36" stroke="#e4e01c" stroke-width="3" stroke-linecap="round"/>
<line x1="37.66" y1="-3.36" x2="35.1" y2="0" stroke="#e616de" stroke-width="3" stroke-linecap="round"/>
<line x1="28.9" y1="8.8" x2="32.62" y2="3.52" stroke="#e4e01c" stroke-width="3.2" stroke-linecap="round"/>
<line x1="32.62" y1="3.52" x2="35.1" y2="0" stroke="#e616de" stroke-width="3.2" stroke-linecap="round"/>
<line x1="60.3" y1="-8.4" x2="56.46" y2="-3.36" stroke="#e4e01c" stroke-width="3" stroke-linecap="round"/>
<line x1="56.46" y1="-3.36" x2="53.9" y2="0" stroke="#e616de" stroke-width="3" stroke-linecap="round"/>
<line x1="47.7" y1="8.8" x2="51.42" y2="3.52" stroke="#e4e01c" stroke-width="3.2" stroke-linecap="round"/>
<line x1="51.42" y1="3.52" x2="53.9" y2="0" stroke="#e616de" stroke-width="3.2" stroke-linecap="round"/>
<line x1="79.1" y1="-8.4" x2="75.26" y2="-3.36" stroke="#e4e01c" stroke-width="3" stroke-linecap="round"/>
<line x1="75.26" y1="-3.36" x2="72.7" y2="0" stroke="#e616de" stroke-width="3" stroke-linecap="round"/>
<line x1="66.5" y1="8.8" x2="70.22" y2="3.52" stroke="#e4e01c" stroke-width="3.2" stroke-linecap="round"/>
<line x1="70.22" y1="3.52" x2="72.7" y2="0" stroke="#e616de" stroke-width="3.2" stroke-linecap="round"/>
<line x1="97.9" y1="-8.4" x2="94.06" y2="-3.36" stroke="#e4e01c" stroke-width="3" stroke-linecap="round"/>
<line x1="94.06" y1="-3.36" x2="91.5" y2="0" stroke="#e616de" stroke-width="3" stroke-linecap="round"/>
<line x1="85.3" y1="8.8" x2="89.02" y2="3.52" stroke="#e4e01c" stroke-width="3.2" stroke-linecap="round"/>
<line x1="89.02" y1="3.52" x2="91.5" y2="0" stroke="#e616de" stroke-width="3.2" stroke-linecap="round"/>
<line x1="116.7" y1="-8.4" x2="112.86" y2="-3.36" stroke="#e4e01c" stroke-width="3" stroke-linecap="round"/>
<line x1="112.86" y1="-3.36" x2="110.3" y2="0" stroke="#e616de" stroke-width="3" stroke-linecap="round"/>
<line x1="104.1" y1="8.8" x2="107.82" y2="3.52" stroke="#e4e01c" stroke-width="3.2" stroke-linecap="round"/>
<line x1="107.82" y1="3.52" x2="110.3" y2="0" stroke="#e616de" stroke-width="3.2" stroke-linecap="round"/>
<line x1="-14.9" y1="-8.4" x2="-7.21" y2="-3.19" stroke="#e4e01c" stroke-width="5.4" stroke-linecap="round"/>
<line x1="-7.21" y1="-3.19" x2="-2.5" y2="0" stroke="#e616de" stroke-width="5.4" stroke-linecap="round"/>
<line x1="10.1" y1="8.8" x2="2.29" y2="3.34" stroke="#e4e01c" stroke-width="5.4" stroke-linecap="round"/>
<line x1="2.29" y1="3.34" x2="-2.5" y2="0" stroke="#e616de" stroke-width="5.4" stroke-linecap="round"/>
<line x1="3.9" y1="-8.4" x2="11.59" y2="-3.19" stroke="#e4e01c" stroke-width="5.4" stroke-linecap="round"/>
<line x1="11.59" y1="-3.19" x2="16.3" y2="0" stroke="#e616de" stroke-width="5.4" stroke-linecap="round"/>
<line x1="28.9" y1="8.8" x2="21.09" y2="3.34" stroke="#e4e01c" stroke-width="5.4" stroke-linecap="round"/>
<line x1="21.09" y1="3.34" x2="16.3" y2="0" stroke="#e616de" stroke-width="5.4" stroke-linecap="round"/>
<line x1="22.7" y1="-8.4" x2="30.39" y2="-3.19" stroke="#e4e01c" stroke-width="5.4" stroke-linecap="round"/>
<line x1="30.39" y1="-3.19" x2="35.1" y2="0" stroke="#e616de" stroke-width="5.4" stroke-linecap="round"/>
<line x1="47.7" y1="8.8" x2="39.89" y2="3.34" stroke="#e4e01c" stroke-width="5.4" stroke-linecap="round"/>
<line x1="39.89" y1="3.34" x2="35.1" y2="0" stroke="#e616de" stroke-width="5.4" stroke-linecap="round"/>
<line x1="41.5" y1="-8.4" x2="49.19" y2="-3.19" stroke="#e4e01c" stroke-width="5.4" stroke-linecap="round"/>
<line x1="49.19" y1="-3.19" x2="53.9" y2="0" stroke="#e616de" stroke-width="5.4" stroke-linecap="round"/>
<line x1="66.5" y1="8.8" x2="58.69" y2="3.34" stroke="#e4e01c" stroke-width="5.4" stroke-linecap="round"/>
<line x1="58.69" y1="3.34" x2="53.9" y2="0" stroke="#e616de" stroke-width="5.4" stroke-linecap="round"/>
<line x1="60.3" y1="-8.4" x2="67.99" y2="-3.19" stroke="#e4e01c" stroke-width="5.4" stroke-linecap="round"/>
<line x1="67.99" y1="-3.19" x2="72.7" y2="0" stroke="#e616de" stroke-width="5.4" stroke-linecap="round"/>
<line x1="85.3" y1="8.8" x2="77.49" y2="3.34" stroke="#e4e01c" stroke-width="5.4" stroke-linecap="round"/>
<line x1="77.49" y1="3.34" x2="72.7" y2="0" stroke="#e616de" stroke-width="5.4" stroke-linecap="round"/>
<line x1="79.1" y1="-8.4" x2="86.79" y2="-3.19" stroke="#e4e01c" stroke-width="5.4" stroke-linecap="round"/>
<line x1="86.79" y1="-3.19" x2="91.5" y2="0" stroke="#e616de" stroke-width="5.4" stroke-linecap="round"/>
<line x1="104.1" y1="8.8" x2="96.29" y2="3.34" stroke="#e4e01c" stroke-width="5.4" stroke-linecap="round"/>
<line x1="96.29" y1="3.34" x2="91.5" y2="0" stroke="#e616de" stroke-width="5.4" stroke-linecap="round"/>
<line x1="97.9" y1="-8.4" x2="105.59" y2="-3.19" stroke="#e4e01c" stroke-width="5.4" stroke-linecap="round"/>
<line x1="105.59" y1="-3.19" x2="110.3" y2="0" stroke="#e616de" stroke-width="5.4" stroke-linecap="round"/>
<line x1="122.9" y1="8.8" x2="115.09" y2="3.34" stroke="#e4e01c" stroke-width="5.4" stroke-linecap="round"/>
<line x1="115.09" y1="3.34" x2="110.3" y2="0" stroke="#e616de" stroke-width="5.4" stroke-linecap="round"/>
<circle cx="3.9" cy="-8.4" r="2.8" fill="url(#gse)"/>
<circle cx="10.1" cy="8.8" r="2.8" fill="url(#gse)"/>
<circle cx="22.7" cy="-8.4" r="2.8" fill="url(#gse)"/>
<circle cx="28.9" cy="8.8" r="2.8" fill="url(#gse)"/>
<circle cx="41.5" cy="-8.4" r="2.8" fill="url(#gse)"/>
<circle cx="47.7" cy="8.8" r="2.8" fill="url(#gse)"/>
<circle cx="60.3" cy="-8.4" r="2.8" fill="url(#gse)"/>
<circle cx="66.5" cy="8.8" r="2.8" fill="url(#gse)"/>
<circle cx="79.1" cy="-8.4" r="2.8" fill="url(#gse)"/>
<circle cx="85.3" cy="8.8" r="2.8" fill="url(#gse)"/>
<circle cx="97.9" cy="-8.4" r="2.8" fill="url(#gse)"/>
<circle cx="104.1" cy="8.8" r="2.8" fill="url(#gse)"/>
<circle cx="-2.5" cy="0" r="3.3" fill="url(#gmn)"/>
<circle cx="16.3" cy="0" r="3.3" fill="url(#gmn)"/>
<circle cx="35.1" cy="0" r="3.3" fill="url(#gmn)"/>
<circle cx="53.9" cy="0" r="3.3" fill="url(#gmn)"/>
<circle cx="72.7" cy="0" r="3.3" fill="url(#gmn)"/>
<circle cx="91.5" cy="0" r="3.3" fill="url(#gmn)"/>
<circle cx="110.3" cy="0" r="3.3" fill="url(#gmn)"/>
<rect x="-1" y="-13" width="4" height="26" fill="url(#fadeL)"/>
<rect x="107" y="-13" width="4" height="26" fill="url(#fadeR)"/>
</g></defs>
<clipPath id="clipL"><rect x="-0.5" y="-15" width="111" height="30"/></clipPath>
<g transform="translate(379.7,309)"><g clip-path="url(#clipL)"><use href="#cri3"/></g></g>
<g transform="translate(379.7,346.8)"><g clip-path="url(#clipL)"><use href="#mnse2"/></g></g>
<g transform="translate(552.2,308.4)"><g clip-path="url(#clipL)"><use href="#cri3"/></g></g>
<g transform="translate(552.2,346.5)"><g clip-path="url(#clipL)"><use href="#mnse2"/></g></g>
<g transform="translate(379.7,442.6)"><g clip-path="url(#clipL)"><use href="#cri3"/></g></g>
<g transform="translate(379.7,480.7)"><g clip-path="url(#clipL)"><use href="#mnse2"/></g></g>
<g transform="translate(552.2,442.6)"><g clip-path="url(#clipL)"><use href="#cri3"/></g></g>
<g transform="translate(552.2,480.4)"><g clip-path="url(#clipL)"><use href="#mnse2"/></g></g>
<filter id="osh" x="-30%" y="-30%" width="160%" height="160%"><feDropShadow dx="1.2" dy="1.4" stdDeviation="1" flood-color="#000" flood-opacity="0.25"/></filter>
<polygon points="512.4,315.9 521.4,315.9 521.4,304.5 531,326.8 521.4,348.8 521.4,337.7 512.4,337.7" fill="#ef7f33" filter="url(#osh)"/>
<polygon points="512.4,450.2 521.4,450.2 521.4,438.8 531,461.1 521.4,483.1 521.4,472 512.4,472" fill="#ef7f33" filter="url(#osh)"/>
<text x="363.3" y="309.6" font-size="13" text-anchor="middle">e</text>
<text x="370.6" y="324" font-size="13" text-anchor="middle">e</text>
<text x="359" y="328.5" font-size="13" text-anchor="middle">e</text>
<text x="373.9" y="335.9" font-size="13" text-anchor="middle">e</text>
<text x="359.7" y="350.1" font-size="13" text-anchor="middle">e</text>
<text x="678.4" y="317.1" font-size="13" text-anchor="middle">e</text>
<text x="668.5" y="336.6" font-size="13" text-anchor="middle">e</text>
<path d="M378.5,303.6 C366,304 361.5,314 362.4,326 C363,336 368,342 374.5,345.6 L375.6,344 C369.5,339.5 364.3,334 364.1,326 C363.9,315 368,308.5 378.5,307.4 Z" fill="#13a04c"/>
<polygon points="379.6,348.6 371.2,347.8 375.8,341.6" fill="#13a04c"/>
<path d="M661.3,303.6 C673.8,304 678.3,314 677.4,326 C676.8,336 671.8,342 665.3,345.6 L664.2,344 C670.3,339.5 675.5,334 675.7,326 C675.9,315 671.8,308.5 661.3,307.4 Z" fill="#13a04c"/>
<polygon points="660.2,348.6 668.6,347.8 664,341.6" fill="#13a04c"/>
<text x="476.8" y="330.5" font-size="11.2">SAP</text>
<text x="543.5" y="330.4" font-size="11.2">SP</text>
<text x="485.1" y="464.6" font-size="11.2">SP</text>
<text x="542.2" y="463" font-size="11.2">SAP</text>
<text x="554.4" y="288.3" font-size="16"><tspan font-style="italic">&#400;</tspan><tspan dy="3" font-size="11" font-style="italic">z</tspan></text>
<text x="554.4" y="420.3" font-size="16"><tspan font-style="italic">&#400;</tspan><tspan dy="3" font-size="11" font-style="italic">z</tspan></text>
<g opacity="0.92"><rect x="417" y="448" width="35" height="16.6" fill="url(#shaft)"/><polygon points="400.4,464.4 469.4,464.4 434.7,478.6" fill="url(#head)" stroke="#7aa862" stroke-width="0.6"/><polygon points="400.4,464.4 434.7,478.6 433,479.6" fill="#5f9048"/><line x1="403" y1="464.9" x2="434" y2="477.4" stroke="#fff" stroke-width="0.8" opacity="0.8"/></g>
<text x="427.8" y="468" font-size="15.6" font-style="italic">P</text>
<text x="437.9" y="472.2" font-size="11" font-style="italic">z</text>
<g><rect x="589.6" y="464.3" width="34.2" height="16.1" fill="url(#shaft)" fill-opacity="0.55"/><line x1="590.1" y1="464.3" x2="590.1" y2="480.4" stroke="#8ab878" stroke-width="1"/><line x1="623.3" y1="464.3" x2="623.3" y2="480.4" stroke="#8ab878" stroke-width="1"/><line x1="589.6" y1="480" x2="623.8" y2="480" stroke="#9cc48a" stroke-width="0.8"/><polygon points="572.8,464.3 606.7,448.6 639.8,464.3" fill="#a6d08e" stroke="#7cae64" stroke-width="0.8" fill-opacity="0.95"/><polygon points="591,464 606.7,452 622.4,464" fill="#dcefd2" fill-opacity="0.85"/><polygon points="597,458.5 604,454 608,455.6 601,460" fill="#fff" opacity="0.9"/></g>
<line x1="575.5" y1="278.9" x2="575.5" y2="365" stroke="#111" stroke-width="1.35" stroke-dasharray="4.6,3"/>
<polygon points="575.5,371 572.3,364.4 578.7,364.4" fill="#111"/>
<line x1="575.5" y1="418.5" x2="575.5" y2="503" stroke="#111" stroke-width="1.35" stroke-dasharray="4.6,3"/>
<polygon points="575.5,412.2 572.3,418.8 578.7,418.8" fill="#111"/>
<line x1="607.3" y1="278.9" x2="607.3" y2="365" stroke="#111" stroke-width="1.35" stroke-dasharray="4.6,3"/>
<polygon points="607.3,371 604.1,364.4 610.5,364.4" fill="#111"/>
<line x1="607.3" y1="418.5" x2="607.3" y2="503" stroke="#111" stroke-width="1.35" stroke-dasharray="4.6,3"/>
<polygon points="607.3,412.2 604.1,418.8 610.5,418.8" fill="#111"/>
<line x1="638.9" y1="278.9" x2="638.9" y2="365" stroke="#111" stroke-width="1.35" stroke-dasharray="4.6,3"/>
<polygon points="638.9,371 635.7,364.4 642.1,364.4" fill="#111"/>
<line x1="638.9" y1="418.5" x2="638.9" y2="503" stroke="#111" stroke-width="1.35" stroke-dasharray="4.6,3"/>
<polygon points="638.9,412.2 635.7,418.8 642.1,418.8" fill="#111"/>
</svg></body></html>
